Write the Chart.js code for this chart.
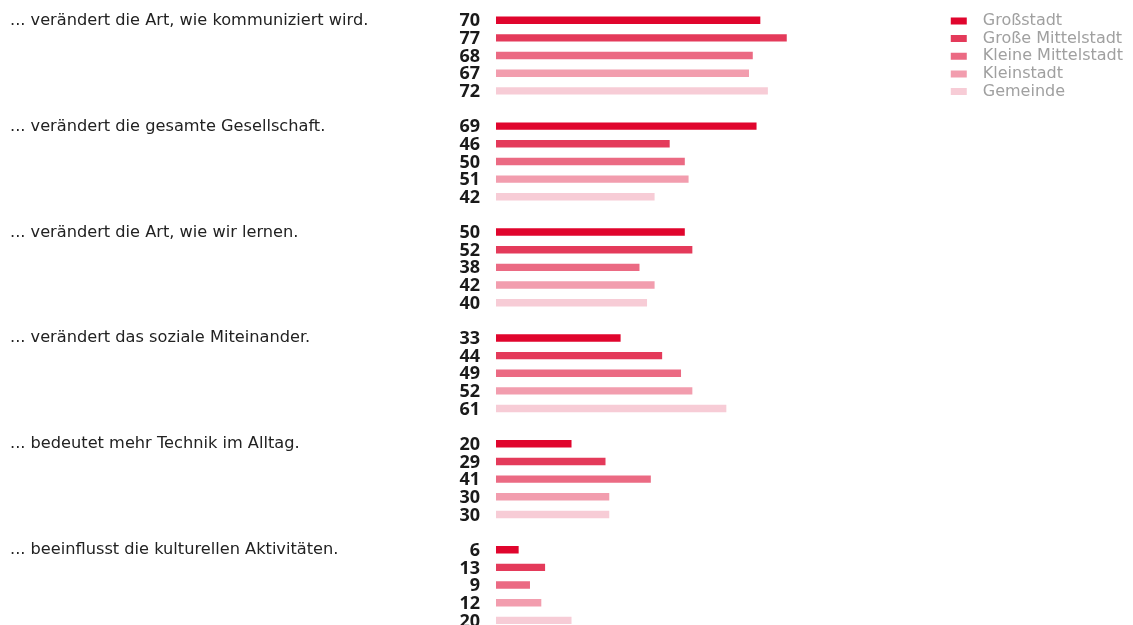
<!DOCTYPE html>
<html>
<head>
<meta charset="utf-8">
<script src="https://cdn.jsdelivr.net/npm/chart.js@4/dist/chart.umd.min.js"></script>
<style>
    html, body { margin: 0; padding: 0; background: #fff; overflow: hidden; }
    #wrap { position: relative; width: 1133px; height: 638px; }
</style>
</head>
<body>
<div id="wrap"><canvas id="myChart"></canvas></div>
<script>
var categories = [
    '... verändert die Art, wie kommuniziert wird.',
    '... verändert die gesamte Gesellschaft.',
    '... verändert die Art, wie wir lernen.',
    '... verändert das soziale Miteinander.',
    '... bedeutet mehr Technik im Alltag.',
    '... beeinflusst die kulturellen Aktivitäten.'
];
var seriesNames = ['Großstadt', 'Große Mittelstadt', 'Kleine Mittelstadt', 'Kleinstadt', 'Gemeinde'];
var grossstadt = [70, 69, 50, 33, 20, 6];
var grosseMittelstadt = [77, 46, 52, 44, 29, 13];
var kleineMittelstadt = [68, 50, 38, 49, 41, 9];
var kleinstadt = [67, 51, 42, 52, 30, 12];
var gemeinde = [72, 42, 40, 61, 30, 20];
var colors = ['#e0052d', '#e43a5a', '#eb6a83', '#f29dae', '#f7ccd6'];

var seriesValues = [grossstadt, grosseMittelstadt, kleineMittelstadt, kleinstadt, gemeinde];
var datasets = seriesNames.map(function (name, i) {
    return {
        label: name,
        data: seriesValues[i],
        backgroundColor: colors[i],
        borderWidth: 0,
        categoryPercentage: 0.834,
        barPercentage: 0.42
    };
});

// value labels left of each bar
var valueLabels = {
    id: 'valueLabels',
    afterDatasetsDraw: function (chart) {
        var ctx = chart.ctx;
        ctx.save();
        ctx.font = 'bold 18px "Open Sans"';
        ctx.fillStyle = '#1a1a1a';
        ctx.textAlign = 'right';
        ctx.textBaseline = 'middle';
        chart.data.datasets.forEach(function (ds, i) {
            chart.getDatasetMeta(i).data.forEach(function (bar, j) {
                ctx.fillText(String(ds.data[j]), bar.base - 16, bar.y + 1);
            });
        });
        ctx.restore();
    }
};

new Chart(document.getElementById('myChart').getContext('2d'), {
    type: 'bar',
    data: {labels: categories, datasets: datasets},
    plugins: [valueLabels],
    options: {
        indexAxis: 'y',
        responsive: true,
        maintainAspectRatio: false,
        animation: false,
        layout: {padding: {left: 10, top: 2.6, right: 0, bottom: 0}},
        scales: {
            x: {display: false, min: 0, max: 120},
            y: {
                grid: {display: false},
                border: {display: false},
                afterFit: function (scale) {
                    scale.width = 486;
                    scale.paddingTop = 0;
                    scale.paddingBottom = 0;
                },
                ticks: {
                    crossAlign: 'far',
                    labelOffset: -35,
                    color: '#222',
                    font: {family: '"DejaVu Sans"', size: 16.2}
                }
            }
        },
        plugins: {
            tooltip: {enabled: false},
            legend: {
                position: 'right',
                align: 'start',
                title: {display: true, text: '', font: {size: 1}, padding: {top: 7.5, bottom: 0}},
                labels: {
                    boxWidth: 16,
                    boxHeight: 7,
                    padding: 1.65,
                    color: '#a0a0a0',
                    font: {family: '"DejaVu Sans"', size: 16},
                    generateLabels: function (chart) {
                        return chart.data.datasets.map(function (ds, i) {
                            return {
                                text: '\u2002' + ds.label,
                                fillStyle: ds.backgroundColor,
                                strokeStyle: ds.backgroundColor,
                                lineWidth: 0,
                                fontColor: '#a0a0a0',
                                datasetIndex: i
                            };
                        });
                    }
                }
            }
        }
    }
});
</script>
</body>
</html>
